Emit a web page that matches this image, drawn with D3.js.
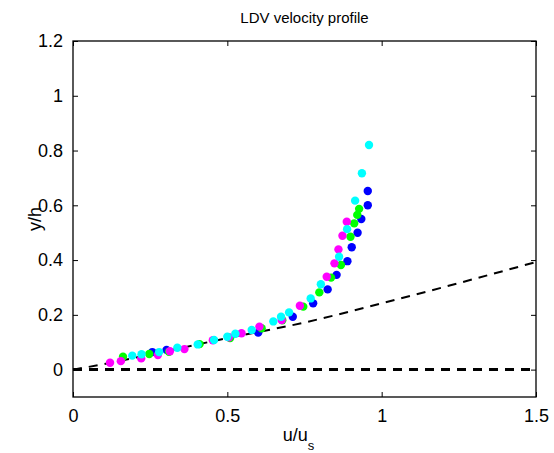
<!DOCTYPE html>
<html>
  <head>
    <style>
      body { margin: 0; background: #fff; }
      text { font-family: "Liberation Sans", Arial, sans-serif; }
    </style>
  </head>
  <body>
    <script src="https://d3js.org/d3.v7.min.js"></script>
    <script>
      // data: [u/us, y/h]
      var blueSeries = [[0.257,0.064],[0.303,0.072],[0.600,0.135],[0.712,0.193],[0.778,0.242],[0.825,0.293],[0.854,0.346],[0.889,0.396],[0.903,0.447],[0.922,0.500],[0.934,0.550],[0.955,0.600],[0.955,0.652]];
      var greenSeries = [[0.162,0.047],[0.247,0.057],[0.311,0.065],[0.410,0.093],[0.509,0.115],[0.611,0.151],[0.678,0.180],[0.746,0.230],[0.798,0.282],[0.836,0.336],[0.868,0.382],[0.899,0.485],[0.911,0.534],[0.921,0.565],[0.927,0.587]];
      var magentaSeries = [[0.120,0.025],[0.155,0.031],[0.221,0.041],[0.275,0.053],[0.314,0.067],[0.361,0.075],[0.453,0.107],[0.505,0.118],[0.546,0.133],[0.604,0.157],[0.676,0.181],[0.735,0.233],[0.822,0.339],[0.847,0.388],[0.860,0.439],[0.873,0.489],[0.887,0.540]];
      var cyanSeries = [[0.192,0.051],[0.222,0.056],[0.279,0.064],[0.338,0.080],[0.404,0.092],[0.457,0.108],[0.500,0.120],[0.526,0.131],[0.579,0.145],[0.649,0.176],[0.674,0.193],[0.700,0.209],[0.770,0.260],[0.803,0.312],[0.862,0.412],[0.888,0.513],[0.914,0.617],[0.936,0.717],[0.959,0.820]];
      // dashed fit curve, read at a few points
      var fitCurve = [[0,0],[0.1,0.02],[0.25,0.055],[0.5,0.115],[0.75,0.172],[1.0,0.242],[1.25,0.316],[1.5,0.393]];
      var zeroLine = [[0,0],[1.5,0]];
      var xTicks = [0, 0.5, 1, 1.5];
      var yTicks = [0, 0.2, 0.4, 0.6, 0.8, 1, 1.2];

      var W = 554, H = 453;
      var mLeft = 73, mRight = 536, mTop = 41, mBottom = 397;

      var svg = d3.select("body").append("svg")
        .attr("width", W).attr("height", H);

      var x = d3.scaleLinear().domain([0, 1.5]).range([mLeft, mRight]);
      var y = d3.scaleLinear().domain([-0.1, 1.2]).range([mBottom, mTop]);

      var line = d3.line().x(function(d){ return x(d[0]); }).y(function(d){ return y(d[1]); });

      // fit curve and zero line
      svg.append("path").datum(fitCurve)
        .attr("d", line.curve(d3.curveMonotoneX))
        .attr("fill", "none").attr("stroke", "#000")
        .attr("stroke-width", 2).attr("stroke-dasharray", "9,7");
      svg.append("path").datum(zeroLine)
        .attr("d", d3.line().x(function(d){ return x(d[0]); }).y(function(d){ return y(d[1]); }))
        .attr("fill", "none").attr("stroke", "#000")
        .attr("stroke-width", 3).attr("stroke-dasharray", "9,7");

      // points
      var groups = [
        {data: blueSeries, color: "#0000ff"},
        {data: greenSeries, color: "#00ff00"},
        {data: magentaSeries, color: "#ff00ff"},
        {data: cyanSeries, color: "#00ffff"}
      ];
      groups.forEach(function(g){
        svg.append("g").selectAll("circle").data(g.data).enter()
          .append("circle")
          .attr("cx", function(d){ return x(d[0]); })
          .attr("cy", function(d){ return y(d[1]); })
          .attr("r", 4.2)
          .attr("fill", g.color);
      });

      // axes (MATLAB style: ticks inside, on all four sides)
      var fmt = function(d){ return d3.format("")(d); };
      svg.append("g").attr("transform", "translate(0," + mBottom + ")")
        .call(d3.axisBottom(x).tickValues(xTicks).tickFormat(fmt).tickSizeInner(-5).tickSizeOuter(0).tickPadding(12));
      svg.append("g").attr("transform", "translate(" + mLeft + ",0)")
        .call(d3.axisLeft(y).tickValues(yTicks).tickFormat(fmt).tickSizeInner(-5).tickSizeOuter(0).tickPadding(10));
      svg.append("g").attr("transform", "translate(0," + mTop + ")")
        .call(d3.axisTop(x).tickValues(xTicks).tickFormat("").tickSizeInner(-5).tickSizeOuter(0));
      svg.append("g").attr("transform", "translate(" + mRight + ",0)")
        .call(d3.axisRight(y).tickValues(yTicks).tickFormat("").tickSizeInner(-5).tickSizeOuter(0));

      svg.selectAll(".domain").remove();
      svg.selectAll(".tick line").attr("stroke", "#000");
      svg.selectAll(".tick text").attr("fill", "#000").style("font-size", "18px")
        .style("font-family", "'Liberation Sans', Arial, sans-serif");

      svg.append("rect")
        .attr("x", mLeft).attr("y", mTop)
        .attr("width", mRight - mLeft).attr("height", mBottom - mTop)
        .attr("fill", "none").attr("stroke", "#000").attr("stroke-width", 1.3);

      // labels
      svg.append("text")
        .attr("x", (mLeft + mRight) / 2).attr("y", 23)
        .attr("text-anchor", "middle").style("font-size", "15px")
        .text("LDV velocity profile");

      var xl = svg.append("text")
        .attr("x", (mLeft + mRight) / 2 - 6).attr("y", 441)
        .attr("text-anchor", "middle").style("font-size", "18px");
      xl.append("tspan").text("u/u");
      xl.append("tspan").attr("dy", 9).style("font-size", "13px").text("s");

      svg.append("text")
        .attr("transform", "translate(41," + ((mTop + mBottom) / 2) + ") rotate(-90)")
        .attr("text-anchor", "middle").style("font-size", "18px")
        .text("y/h");
    </script>
  </body>
</html>
